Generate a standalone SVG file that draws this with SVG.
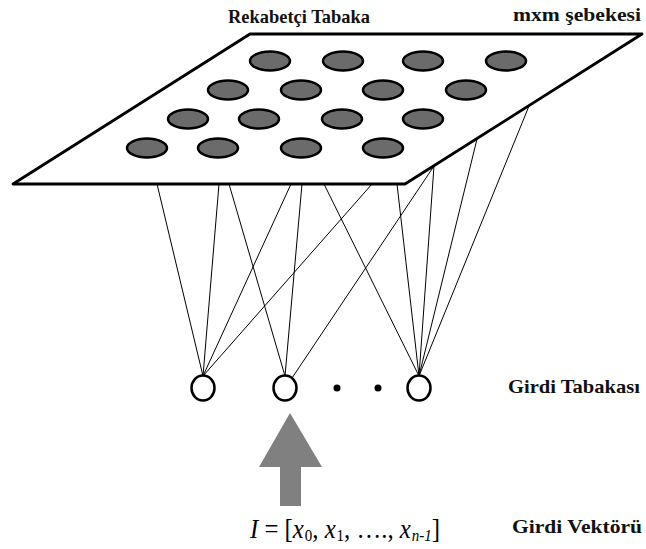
<svg xmlns="http://www.w3.org/2000/svg" width="646" height="549" viewBox="0 0 646 549">
<style>
.lbl{font-family:"Liberation Serif","Times New Roman",serif;font-weight:bold;fill:#111;}
.plane{fill:#fff;stroke:#000;stroke-width:2.8;stroke-linejoin:round;}
.unit{fill:#6b6b6b;stroke:#000;stroke-width:2.5;}
.in{fill:#fff;stroke:#000;stroke-width:2.5;}
.conn line{stroke:#000;stroke-width:1;}
.math{font-family:"Liberation Serif","Times New Roman",serif;fill:#000;}
</style>
<rect width="646" height="549" fill="#fff"/>
<g id="connectors" class="conn">
<line x1="157" y1="184" x2="203" y2="376"/>
<line x1="219" y1="184" x2="203" y2="376"/>
<line x1="291" y1="184" x2="203" y2="376"/>
<line x1="372" y1="184" x2="203" y2="376"/>
<line x1="229" y1="184" x2="285" y2="376"/>
<line x1="302" y1="184" x2="285" y2="376"/>
<line x1="434" y1="166" x2="292" y2="378"/>
<line x1="324" y1="184" x2="419" y2="376"/>
<line x1="397" y1="184" x2="419" y2="376"/>
<line x1="434" y1="166" x2="419" y2="376"/>
<line x1="477" y1="139" x2="419" y2="376"/>
<line x1="529" y1="106" x2="419" y2="376"/>
</g>
<g id="competitive-layer">
<polygon class="plane" points="250,34 642,34 405,184 13,184"/>
<ellipse class="unit" cx="270" cy="61" rx="20" ry="9.5"/>
<ellipse class="unit" cx="343" cy="61" rx="20" ry="9.5"/>
<ellipse class="unit" cx="423" cy="61" rx="20" ry="9.5"/>
<ellipse class="unit" cx="506" cy="61" rx="20" ry="9.5"/>
<ellipse class="unit" cx="228" cy="90" rx="20" ry="9.5"/>
<ellipse class="unit" cx="301" cy="90" rx="20" ry="9.5"/>
<ellipse class="unit" cx="383" cy="90" rx="20" ry="9.5"/>
<ellipse class="unit" cx="466" cy="90" rx="20" ry="9.5"/>
<ellipse class="unit" cx="188" cy="119" rx="20" ry="9.5"/>
<ellipse class="unit" cx="259" cy="119" rx="20" ry="9.5"/>
<ellipse class="unit" cx="342" cy="119" rx="20" ry="9.5"/>
<ellipse class="unit" cx="423" cy="119" rx="20" ry="9.5"/>
<ellipse class="unit" cx="147" cy="148" rx="20" ry="9.5"/>
<ellipse class="unit" cx="218" cy="148" rx="20" ry="9.5"/>
<ellipse class="unit" cx="301" cy="148" rx="20" ry="9.5"/>
<ellipse class="unit" cx="383" cy="148" rx="20" ry="9.5"/>
</g>
<g id="input-node-1"><ellipse class="in" cx="203" cy="388" rx="11.5" ry="12.5"/></g>
<g id="input-node-2"><ellipse class="in" cx="285" cy="388" rx="11.5" ry="12.5"/></g>
<g id="ellipsis-dots"><circle cx="337" cy="388" r="3.5" fill="#000"/><circle cx="378" cy="388" r="3.5" fill="#000"/></g>
<g id="input-node-n"><ellipse class="in" cx="419" cy="388" rx="11.5" ry="12.5"/></g>
<g id="input-arrow"><polygon points="290,413 322,467 301,467 301,506 280,506 280,467 259,467" fill="#808080"/></g>
<g id="labels">
<text class="lbl" x="228" y="23" font-size="19" textLength="142" lengthAdjust="spacingAndGlyphs">Rekabetçi Tabaka</text>
<text class="lbl" x="513" y="21" font-size="18" textLength="128" lengthAdjust="spacingAndGlyphs">mxm şebekesi</text>
<text class="lbl" x="508" y="393" font-size="19" textLength="132" lengthAdjust="spacingAndGlyphs">Girdi Tabakası</text>
<text class="lbl" x="512" y="533" font-size="19" textLength="130" lengthAdjust="spacingAndGlyphs">Girdi Vektörü</text>
</g>
<g id="input-vector">
<text class="math" x="250" y="538" font-size="28" textLength="190" lengthAdjust="spacingAndGlyphs"><tspan font-style="italic">I</tspan> = [<tspan font-style="italic">x</tspan><tspan font-size="17" dx="1" baseline-shift="-20%">0</tspan>, <tspan font-style="italic">x</tspan><tspan font-size="17" dx="1" baseline-shift="-20%">1</tspan>, …., <tspan font-style="italic">x</tspan><tspan font-size="17" dx="1" font-style="italic" baseline-shift="-20%">n-1</tspan>]</text>
</g>
</svg>
